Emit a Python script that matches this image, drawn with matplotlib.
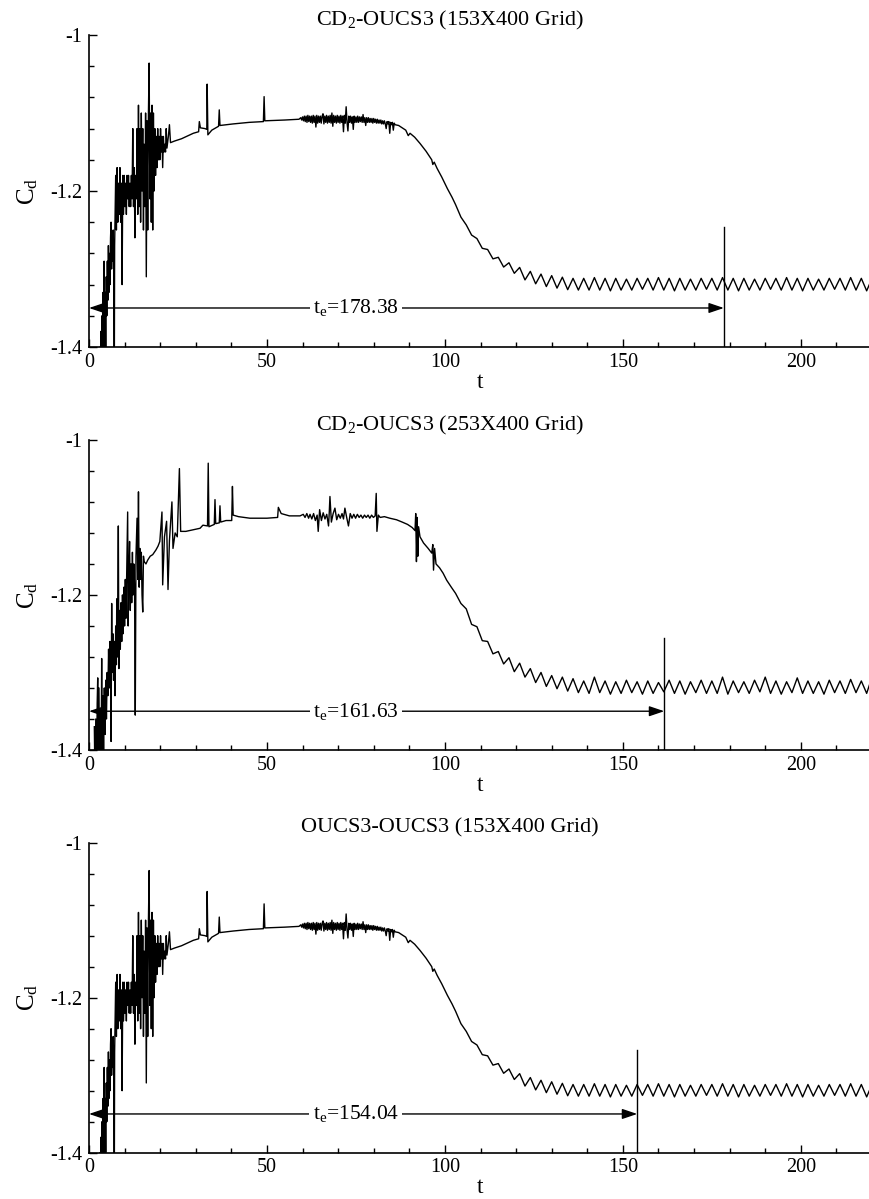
import numpy as np
import matplotlib
matplotlib.use("Agg")
import matplotlib.pyplot as plt
from matplotlib.ticker import MultipleLocator, FuncFormatter

plt.rcParams['font.family'] = 'Liberation Serif'
plt.rcParams['mathtext.fontset'] = 'custom'
plt.rcParams['mathtext.rm'] = 'Liberation Serif'
plt.rcParams['mathtext.it'] = 'Liberation Serif:italic'

# ---- drag history, 153X400 grid (same curve for CD2 and OUCS3 inflow runs) ----
# start-up transient
t_start_a = [2.9, 3.05, 3.2, 3.35, 3.5, 3.65, 3.8, 3.95, 4.1, 4.25,
             4.4, 4.55, 4.7, 4.85, 5.0, 5.15, 5.3, 5.45, 5.6, 5.75,
             5.9, 6.05, 6.2, 6.35, 6.5, 6.65, 6.8, 6.95, 7.1, 7.2, 7.35,
             7.5, 7.7, 7.9, 8.1, 8.3, 8.5, 8.7, 8.9, 9.1, 9.3,
             9.5, 9.7, 9.9, 10.1, 10.3, 10.5, 10.7, 10.9, 11.1, 11.3,
             11.5, 11.7, 11.9, 12.1, 12.3, 12.5, 12.7, 12.9, 13.1, 13.3,
             13.5, 13.7, 13.9, 14.1, 14.3, 14.5, 14.7, 14.9, 15.1, 15.3,
             15.5, 15.7, 15.9, 16.1, 16.3, 16.5, 16.7, 16.9, 17.1, 17.3,
             17.5, 17.7, 17.9, 18.1, 18.3, 18.5, 18.7, 18.9, 19.1, 19.3,
             19.5, 19.7, 19.9, 20.1, 20.3, 20.5, 20.7, 20.9, 21.1, 21.3,
             21.5, 21.7, 21.9, 22.3, 22.6, 22.9, 24.0]
cd_start_a = [-1.46, -1.40, -1.46, -1.38, -1.46, -1.36, -1.46, -1.33, -1.44, -1.29,
              -1.42, -1.33, -1.40, -1.31, -1.36, -1.29, -1.34, -1.27, -1.33, -1.28,
              -1.32, -1.26, -1.24, -1.30, -1.26, -1.29, -1.25, -1.30, -1.46, -1.27, -1.22,
              -1.18, -1.25, -1.17, -1.24, -1.19, -1.23, -1.17, -1.24, -1.19, -1.32,
              -1.18, -1.23, -1.18, -1.22, -1.19, -1.23, -1.18, -1.21, -1.18, -1.22,
              -1.19, -1.22, -1.18, -1.21, -1.12, -1.22, -1.17, -1.26, -1.18, -1.21,
              -1.12, -1.23, -1.09, -1.22, -1.12, -1.24, -1.10, -1.20, -1.12, -1.25,
              -1.14, -1.22, -1.10, -1.31, -1.11, -1.25, -1.10, -1.036, -1.21, -1.10,
              -1.24, -1.09, -1.25, -1.10, -1.20, -1.12, -1.18, -1.13, -1.17, -1.12,
              -1.16, -1.13, -1.16, -1.12, -1.15, -1.13, -1.17, -1.13, -1.15, -1.14,
              -1.15, -1.12, -1.145, -1.13, -1.115, -1.138, -1.136]
# quasi-steady plateau
t_mid_a = [26.0, 29.3, 30.8, 31.0, 31.3, 32.6, 33.1, 33.2, 33.4, 34.5, 36.4, 36.6, 36.8, 40.5,
           45.0, 49.0, 49.2, 49.4, 55.0, 59.0]
cd_mid_a = [-1.133, -1.126, -1.124, -1.111, -1.119, -1.120, -1.121, -1.063, -1.128, -1.122,
            -1.117, -1.096, -1.116, -1.114, -1.112, -1.111, -1.079, -1.110, -1.109, -1.108]
t_noise_a = [59.5, 59.75, 60.0, 60.25, 60.5, 60.75, 61.0, 61.25, 61.5, 61.75,
             62.0, 62.25, 62.5, 62.75, 63.0, 63.25, 63.5, 63.75, 64.0, 64.25,
             64.5, 64.75, 65.0, 65.25, 65.5, 65.75, 66.0, 66.25, 66.5, 66.75,
             67.0, 67.25, 67.5, 67.75, 68.0, 68.25, 68.5, 68.75, 69.0, 69.25,
             69.5, 69.75, 70.0, 70.25, 70.5, 70.75, 71.0, 71.25, 71.5, 71.75,
             72.0, 72.25, 72.5, 72.75, 73.0, 73.25, 73.5, 73.75, 74.0, 74.25,
             74.5, 74.75, 75.0, 75.25, 75.5, 75.75, 76.0, 76.25, 76.5, 76.75,
             77.0, 77.25, 77.5, 77.75, 78.0, 78.25, 78.5, 78.75, 79.0, 79.25,
             79.5, 79.75, 80.0, 80.25, 80.5, 80.75, 81.0, 81.25, 81.5, 81.75,
             82.0, 82.25, 82.5, 82.75, 83.0, 83.25, 83.5, 83.75, 84.0, 84.25,
             84.5, 84.75, 85.0, 85.25, 85.5, 85.75, 86.0]
cd_noise_a = [-1.106, -1.109, -1.105, -1.110, -1.104, -1.111, -1.104, -1.112, -1.103, -1.111,
              -1.104, -1.112, -1.104, -1.113, -1.103, -1.112, -1.104, -1.118, -1.103, -1.113,
              -1.104, -1.112, -1.104, -1.113, -1.104, -1.101, -1.114, -1.104, -1.112, -1.103,
              -1.113, -1.104, -1.112, -1.103, -1.113, -1.100, -1.117, -1.103, -1.112, -1.104,
              -1.113, -1.103, -1.112, -1.104, -1.113, -1.103, -1.112, -1.104, -1.124, -1.103,
              -1.113, -1.092, -1.112, -1.123, -1.104, -1.112, -1.104, -1.113, -1.105, -1.121,
              -1.104, -1.112, -1.105, -1.112, -1.104, -1.112, -1.105, -1.111, -1.105, -1.112,
              -1.102, -1.112, -1.106, -1.116, -1.106, -1.112, -1.106, -1.112, -1.107, -1.112,
              -1.107, -1.113, -1.107, -1.112, -1.108, -1.113, -1.108, -1.113, -1.109, -1.113,
              -1.109, -1.114, -1.110, -1.114, -1.110, -1.114, -1.120, -1.111, -1.114, -1.111,
              -1.126, -1.112, -1.115, -1.112, -1.122, -1.113, -1.115]
t_drop_a = [87.0, 88.0, 89.0, 89.7, 90.2, 91.5, 93.0, 94.7, 96.3, 96.6, 97.0, 97.8, 99.1, 100.7, 102.0]
cd_drop_a = [-1.116, -1.119, -1.122, -1.129, -1.126, -1.131, -1.139, -1.149, -1.160, -1.166,
             -1.163, -1.171, -1.182, -1.197, -1.208]

# periodic shedding tail (peaks and troughs)
t_tail = [103.0, 104.5, 106.0, 107.5, 109.0, 110.5, 112.0, 113.5, 115.0, 116.5, 118.0, 119.5,
          121.0, 122.5, 124.0, 125.5, 127.0, 128.5, 130.0, 131.5, 133.0, 134.5, 136.0, 137.5,
          139.0, 140.5, 142.0, 143.5, 145.0, 146.5, 148.0, 149.5, 151.0, 152.5, 154.0, 155.5,
          157.0, 158.5, 160.0, 161.5, 163.0, 164.5, 166.0, 167.5, 169.0, 170.5, 172.0, 173.5,
          175.0, 176.5, 178.0, 179.5, 181.0, 182.5, 184.0, 185.5, 187.0, 188.5, 190.0, 191.5,
          193.0, 194.5, 196.0, 197.5, 199.0, 200.5, 202.0, 203.5, 205.0, 206.5, 208.0, 209.5,
          211.0, 212.5, 214.0, 215.5, 217.0, 218.5, 220.0]
cd_tail_a = [-1.2175, -1.2335, -1.2435, -1.2565, -1.261, -1.2735, -1.275, -1.287, -1.285, -1.2975,
             -1.292, -1.3055, -1.298, -1.314, -1.303, -1.319, -1.3065, -1.3225, -1.3085, -1.3245,
             -1.3105, -1.3265, -1.312, -1.327,
             -1.312, -1.327, -1.311, -1.327, -1.312, -1.328, -1.312, -1.327, -1.313, -1.327,
             -1.312, -1.326, -1.312, -1.327, -1.311, -1.327, -1.312, -1.328, -1.312, -1.327,
             -1.313, -1.327, -1.312, -1.326, -1.312, -1.327, -1.311, -1.327, -1.312, -1.328,
             -1.312, -1.327, -1.313, -1.327, -1.312, -1.326, -1.312, -1.327, -1.311, -1.327,
             -1.312, -1.328, -1.312, -1.327, -1.313, -1.327, -1.312, -1.326, -1.312, -1.327,
             -1.311, -1.327, -1.312, -1.328, -1.312]

# ---- drag history, 253X400 grid ----
t_start_b = [1.5, 1.7, 1.9, 2.1, 2.3, 2.45, 2.6, 2.8, 3.0, 3.2,
             3.4, 3.56, 3.7, 3.9, 4.1, 4.3, 4.5, 4.7, 4.9, 5.1,
             5.3, 5.5, 5.7, 5.9, 6.1, 6.2, 6.37, 6.5, 6.7, 6.9,
             7.1, 7.3, 7.5, 7.7, 7.8, 8.0, 8.24, 8.4, 8.6, 8.8,
             9.0, 9.2, 9.4, 9.6, 9.8, 10.0, 10.2, 10.4, 10.6, 10.86,
             11.0, 11.2, 11.4, 11.6, 11.8, 12.0, 12.2, 12.4, 12.6, 12.8,
             13.0, 13.2, 13.5, 13.7, 13.9, 14.1, 14.3, 14.5, 14.7, 14.9,
             15.1, 15.3, 15.5, 16.0, 16.5, 17.2, 17.9, 18.8, 19.4, 19.9,
             20.5, 20.7, 21.2, 21.8, 22.2, 22.6, 23.3, 23.6, 24.2, 24.8,
             25.4, 25.75, 27.2, 30.1]
cd_start_b = [-1.37, -1.45, -1.36, -1.45, -1.34, -1.307, -1.45, -1.32, -1.45, -1.35,
              -1.43, -1.282, -1.42, -1.33, -1.41, -1.32, -1.38, -1.31, -1.36, -1.30,
              -1.33, -1.27, -1.32, -1.26, -1.31, -1.389, -1.211, -1.30, -1.25, -1.31,
              -1.26, -1.33, -1.24, -1.29, -1.205, -1.28, -1.111, -1.295, -1.22, -1.27,
              -1.21, -1.26, -1.20, -1.25, -1.19, -1.24, -1.18, -1.23, -1.17, -1.093,
              -1.24, -1.17, -1.131, -1.22, -1.16, -1.21, -1.145, -1.20, -1.16, -1.19,
              -1.355, -1.15, -1.101, -1.18, -1.067, -1.19, -1.14, -1.18, -1.145, -1.20,
              -1.222, -1.15, -1.157, -1.16, -1.155, -1.15, -1.148, -1.142, -1.137, -1.131,
              -1.093, -1.187, -1.125, -1.105, -1.193, -1.13, -1.080, -1.14, -1.12, -1.125,
              -1.037, -1.118, -1.118, -1.115]
t_mid_b = [31.2, 32.0, 33.3, 33.5, 33.7, 35.2, 35.4, 35.6, 36.6, 36.8, 37.0, 38.5, 40.1, 40.3,
           40.5, 42.0, 45.2, 50.0, 53.0, 53.2, 54.0, 56.3, 59.3]
cd_mid_b = [-1.114, -1.110, -1.111, -1.030, -1.112, -1.109, -1.077, -1.108, -1.107, -1.085,
            -1.106, -1.104, -1.104, -1.060, -1.097, -1.099, -1.101, -1.101, -1.100, -1.087,
            -1.095, -1.098, -1.098]
t_noise_b = [60.2, 60.7, 61.2, 61.7, 62.1, 62.6, 63.1, 63.6, 64.1, 64.4, 64.8, 65.3, 65.8, 66.3,
             66.8, 67.3, 67.5, 67.7, 68.1, 68.6, 69.1, 69.6, 70.1, 70.6, 71.1, 71.5, 71.9, 72.4,
             72.9, 73.4, 73.9, 74.4, 74.9, 75.4, 75.9, 76.4, 76.9, 77.4, 77.9, 78.4, 78.9, 79.4,
             79.9, 80.4, 80.7, 80.9, 81.3, 81.8]
cd_noise_b = [-1.096, -1.100, -1.095, -1.101, -1.096, -1.102, -1.095, -1.104, -1.097, -1.118,
              -1.090, -1.104, -1.094, -1.102, -1.096, -1.111, -1.094, -1.073, -1.106, -1.095,
              -1.088, -1.103, -1.096, -1.101, -1.095, -1.102, -1.088, -1.100, -1.111, -1.095,
              -1.101, -1.096, -1.101, -1.096, -1.100, -1.097, -1.101, -1.097, -1.100, -1.097,
              -1.101, -1.097, -1.100, -1.098, -1.069, -1.118, -1.097, -1.100]
t_drop_b = [83.0, 84.5, 86.4, 88.0, 89.5, 90.8, 91.6, 91.8, 92.0, 92.2, 92.4, 92.6, 93.0, 94.0,
            95.3, 96.3, 96.6, 96.8, 97.1, 97.5, 98.5, 99.5, 100.5, 101.8]
cd_drop_b = [-1.099, -1.101, -1.103, -1.106, -1.109, -1.113, -1.117, -1.095, -1.157, -1.100,
             -1.150, -1.112, -1.125, -1.133, -1.140, -1.146, -1.135, -1.168, -1.140, -1.160,
             -1.165, -1.172, -1.181, -1.190]
cd_tail_b = [-1.198, -1.211, -1.218, -1.238, -1.241, -1.259, -1.260, -1.276, -1.273, -1.289,
             -1.281, -1.299, -1.288, -1.306, -1.295, -1.313, -1.300, -1.318, -1.304, -1.321,
             -1.306, -1.324, -1.308, -1.326,
             -1.311, -1.327, -1.306, -1.326, -1.311, -1.328, -1.312, -1.327, -1.310, -1.326,
             -1.312, -1.328, -1.311, -1.327, -1.313, -1.325, -1.310, -1.327, -1.311, -1.328,
             -1.312, -1.326, -1.310, -1.327, -1.311, -1.327, -1.306, -1.328, -1.311, -1.326,
             -1.312, -1.327, -1.310, -1.325, -1.306, -1.327, -1.311, -1.328, -1.312, -1.326,
             -1.307, -1.327, -1.311, -1.327, -1.312, -1.328, -1.310, -1.326, -1.311, -1.327,
             -1.309, -1.326, -1.311, -1.327, -1.306]

t_a = t_start_a + t_mid_a + t_noise_a + t_drop_a + t_tail
cd_a = cd_start_a + cd_mid_a + cd_noise_a + cd_drop_a + cd_tail_a
t_b = t_start_b + t_mid_b + t_noise_b + t_drop_b + t_tail
cd_b = cd_start_b + cd_mid_b + cd_noise_b + cd_drop_b + cd_tail_b

titles = [r"CD$_\mathrm{2}$-OUCS3 (153X400 Grid)",
          r"CD$_\mathrm{2}$-OUCS3 (253X400 Grid)",
          "OUCS3-OUCS3 (153X400 Grid)"]
t_e = [178.38, 161.63, 154.04]
marker_top = [-1.246, -1.255, -1.268]
series = [(t_a, cd_a), (t_b, cd_b), (t_a, cd_a)]

# axes boxes in figure fraction
boxes = [(0.1023, 0.7106, 0.9, 0.2602),
         (0.1023, 0.3745, 0.9, 0.2586),
         (0.1023, 0.0386, 0.9, 0.2586)]

fig = plt.figure(figsize=(8.7, 11.99), dpi=100)

for i in range(3):
    ax = fig.add_axes(boxes[i])
    t, cd = series[i]
    ax.plot(t, cd, color='black', lw=1.0)

    ax.set_xlim(0, 220)
    ax.set_ylim(-1.4, -1.0)
    ax.xaxis.set_major_locator(MultipleLocator(50))
    ax.xaxis.set_minor_locator(MultipleLocator(10))
    ax.yaxis.set_major_locator(MultipleLocator(0.2))
    ax.yaxis.set_minor_locator(MultipleLocator(0.04))
    fmt = FuncFormatter(lambda v, _: f"{v:g}")
    ax.xaxis.set_major_formatter(fmt)
    ax.yaxis.set_major_formatter(fmt)
    ax.tick_params(which='both', direction='in', top=False, right=False, labelsize=14.5, width=1.0)
    ax.tick_params(which='major', length=6)
    ax.tick_params(which='minor', length=3.5)
    ax.tick_params(axis='x', pad=4)
    ax.tick_params(axis='y', pad=5)
    for s in ['top', 'right']:
        ax.spines[s].set_visible(False)
    for s in ['left', 'bottom']:
        ax.spines[s].set_linewidth(1.2)

    ax.set_xlabel('t', fontsize=17, labelpad=0)
    ax.set_ylabel(r"C$_\mathrm{d}$", fontsize=18, labelpad=7)
    ax.annotate(titles[i], xy=(0.461, 1.0), xycoords='axes fraction',
                xytext=(0, 7), textcoords='offset points',
                ha='center', va='baseline', fontsize=16)

    # time-to-establish marker
    ax.annotate('', xy=(t_e[i], -1.35), xytext=(0, -1.35),
                arrowprops=dict(arrowstyle='<|-|>,head_length=0.65,head_width=0.22',
                                color='black', lw=1.0, mutation_scale=14,
                                shrinkA=0, shrinkB=0))
    ax.plot([t_e[i], t_e[i]], [-1.4, marker_top[i]], color='black', lw=1.0)
    ax.text(75, -1.35, r"t$_\mathrm{e}$=%.2f" % t_e[i], ha='center', va='center', fontsize=15.5,
            bbox=dict(facecolor='white', edgecolor='none', pad=2.5))

fig.savefig('out.png', dpi=100)
